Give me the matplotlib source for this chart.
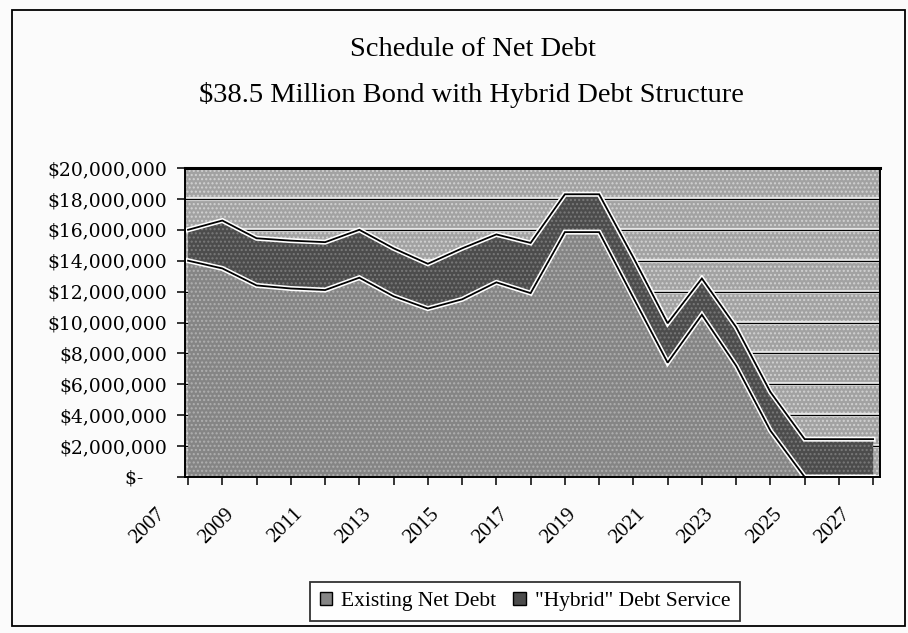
import matplotlib
matplotlib.use("Agg")
import matplotlib.pyplot as plt
import matplotlib.patheffects as pe
from matplotlib.patches import Rectangle
from matplotlib.transforms import ScaledTranslation
import numpy as np

# ---- data ----
years = list(range(2007, 2028))
existing_net_debt = [14.0e6, 13.5e6, 12.4e6, 12.2e6, 12.1e6, 12.9e6, 11.7e6,
                     10.9e6, 11.5e6, 12.6e6, 11.9e6, 15.85e6, 15.85e6, 11.6e6,
                     7.4e6, 10.5e6, 7.2e6, 3.0e6, 0.0, 0.0, 0.0]
hybrid_debt_service = [2.0e6, 3.1e6, 3.05e6, 3.1e6, 3.1e6, 3.1e6, 3.1e6,
                       2.9e6, 3.3e6, 3.1e6, 3.25e6, 2.45e6, 2.45e6, 2.6e6,
                       2.55e6, 2.35e6, 2.5e6, 2.5e6, 2.45e6, 2.45e6, 2.45e6]
series_names = ["Existing Net Debt", "\"Hybrid\" Debt Service"]
y_ticks = list(range(0, 20_000_001, 2_000_000))
title_lines = ["Schedule of Net Debt",
               "$38.5 Million Bond with Hybrid Debt Structure"]

# ---- styling ----
plt.rcParams["hatch.linewidth"] = 1.0
bg_plot, bg_dots = "#a2a2a2", "#d2d2d2"
c_existing, dots_existing = "#858585", "#b0b0b0"
c_hybrid, dots_hybrid = "#4c4c4c", "#7a7a7a"
serif = "Liberation Serif"

fig = plt.figure(figsize=(9.08, 6.33), dpi=100)
fig.patch.set_facecolor("#fbfbfb")
W, H = 908, 633

# outer chart frame
fig.add_artist(Rectangle((12 / W, 1 - 626 / H), (905 - 12) / W, (626 - 10) / H,
                         transform=fig.transFigure, fill=False,
                         edgecolor="black", linewidth=1.3))

fig.text(473 / W, 1 - 50 / H, title_lines[0], ha="center", va="center",
         fontsize=20.5, family=serif)
fig.text(471 / W, 1 - 95 / H, title_lines[1], ha="center", va="center",
         fontsize=20.5, family=serif)

ax = fig.add_axes([185 / W, 1 - 477 / H, 695 / W, 309 / H])
ax.set_facecolor(bg_plot)
ax.patch.set_hatch("....")
ax.patch.set_edgecolor(bg_dots)

x = np.arange(len(years))
existing = np.array(existing_net_debt)
total = existing + np.array(hybrid_debt_service)

polys = ax.stackplot(x, existing_net_debt, hybrid_debt_service,
                     colors=[c_existing, c_hybrid], zorder=2,
                     labels=series_names)
for poly, dc in zip(polys, (dots_existing, dots_hybrid)):
    poly.set_hatch("....")
    poly.set_edgecolor(dc)
    poly.set_linewidth(0)

halo = [pe.Stroke(linewidth=3.6, foreground="white"), pe.Normal()]
for ys in (existing, total):
    ax.plot(x, ys, color="black", linewidth=1.3, zorder=3,
            path_effects=halo, solid_joinstyle="miter")

ax.set_xlim(-0.09, 20.2)
ax.set_ylim(0, 20_000_000)

ax.set_yticks(y_ticks)
ax.set_yticklabels([("$-    " if v == 0 else f"${v:,.0f}") for v in y_ticks],
                   family="DejaVu Serif", fontsize=13.5)
ax.yaxis.grid(True, color="black", linewidth=0.9, zorder=1)
for gl in ax.get_ygridlines():
    gl.set_path_effects([pe.Stroke(linewidth=3.0, foreground="#e6e6e6"),
                         pe.Normal()])
ax.set_axisbelow(True)

ax.set_xticks(x)
ax.set_xticklabels([str(y) if (y - years[0]) % 2 == 0 else "" for y in years],
                   family=serif, fontsize=15, rotation=45, ha="right")

ax.tick_params(axis="x", length=6, width=1.1, pad=14, direction="out")
ax.tick_params(axis="y", length=6, width=1.1, pad=7, direction="out")

# year labels sit a little left of their tick marks
shift = ScaledTranslation(-19 / 100, 0, fig.dpi_scale_trans)
for lab in ax.get_xticklabels():
    lab.set_transform(lab.get_transform() + shift)

for side in ("left", "bottom", "right"):
    ax.spines[side].set_linewidth(1.4)
ax.spines["top"].set_linewidth(2.2)
for sp in ax.spines.values():
    sp.set_zorder(5)

leg = fig.legend(handles=polys, labels=series_names, ncol=2,
                 loc="center", bbox_to_anchor=(525 / W, 1 - 601.5 / H),
                 prop={"family": serif, "size": 15.5},
                 frameon=True, fancybox=False, shadow=False,
                 edgecolor="black", handlelength=0.6, handleheight=0.6,
                 handletextpad=0.4, columnspacing=0.8, borderpad=0.45,
                 borderaxespad=0)
leg.get_frame().set_linewidth(1.3)
leg.get_frame().set_facecolor("white")
for h in leg.legend_handles:
    h.set_edgecolor("black")
    h.set_linewidth(1.0)
    h.set_hatch(None)

fig.savefig("out.png", dpi=100, facecolor=fig.get_facecolor())
